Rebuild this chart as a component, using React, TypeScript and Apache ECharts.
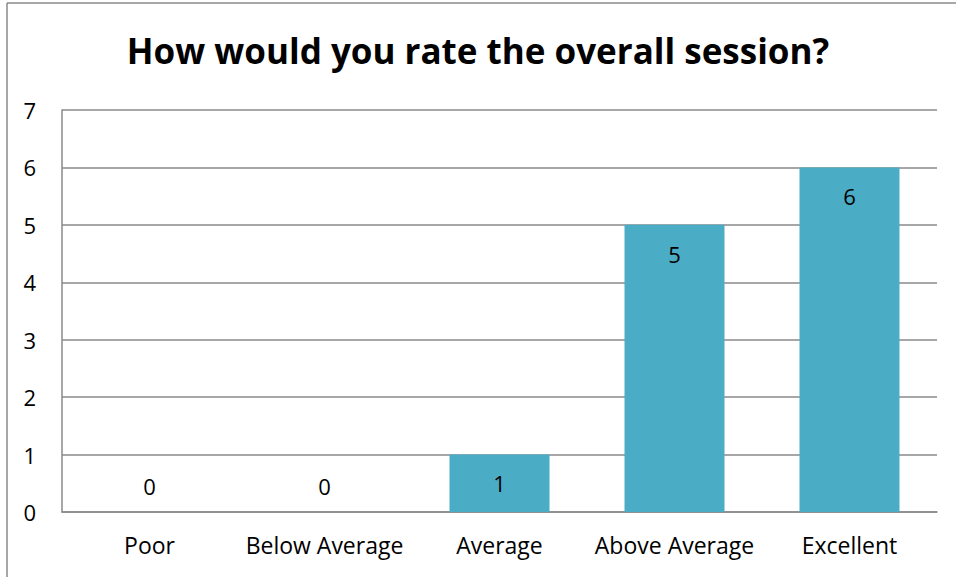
import React, { useEffect, useRef } from "react";
import * as echarts from "echarts";

const categories = ["Poor", "Below Average", "Average", "Above Average", "Excellent"];
const values = [0, 0, 1, 5, 6];
const titleText = "How would you rate the overall session?";

export default function App() {
  const ref = useRef<HTMLDivElement>(null);
  useEffect(() => {
    document.body.style.margin = "0";
    const chart = echarts.init(ref.current!, null, { renderer: "svg" });
    const font = "'Open Sans', 'Noto Sans', sans-serif";
    chart.setOption({
      animation: false,
      backgroundColor: "#ffffff",
      title: {
        text: titleText,
        left: "center",
        top: 28,
        textStyle: { fontFamily: font, fontWeight: "bold", fontSize: 35, color: "#000" },
      },
      grid: { left: 62, right: 19, top: 110, bottom: 65, containLabel: false },
      xAxis: {
        type: "category",
        data: categories,
        axisLine: { lineStyle: { color: "#8a8a8a", width: 1.5 } },
        axisTick: { show: false },
        axisLabel: { fontFamily: font, fontSize: 23, color: "#000", margin: 21, interval: 0, hideOverlap: false },
      },
      yAxis: {
        type: "value",
        min: 0,
        max: 7,
        interval: 1,
        axisLine: { show: true, lineStyle: { color: "#8a8a8a", width: 1.5 } },
        axisTick: { show: false },
        splitLine: { lineStyle: { color: "#8a8a8a", width: 1.5 } },
        axisLabel: { fontFamily: font, fontSize: 22, color: "#000", margin: 26 },
      },
      graphic: [
        { type: "line", shape: { x1: 7, y1: 3, x2: 7, y2: 577 }, style: { stroke: "#8a8a8a", lineWidth: 1.5 } },
        { type: "line", shape: { x1: 7, y1: 3, x2: 956, y2: 3 }, style: { stroke: "#8a8a8a", lineWidth: 1.5 } },
      ],
      series: [
        {
          type: "bar",
          barWidth: 100,
          itemStyle: { color: "#4BACC6" },
          label: {
            show: true,
            position: "insideTop",
            distance: 18,
            fontFamily: font,
            fontSize: 22,
            color: "#000",
          },
          data: values.map((v) =>
            v === 0 ? { value: v, label: { position: "top", distance: 15 } } : v === 1 ? { value: v, label: { position: "inside" } } : v
          ),
        },
      ],
    });
    return () => chart.dispose();
  }, []);
  return <div ref={ref} style={{ width: 956, height: 577 }} />;
}
